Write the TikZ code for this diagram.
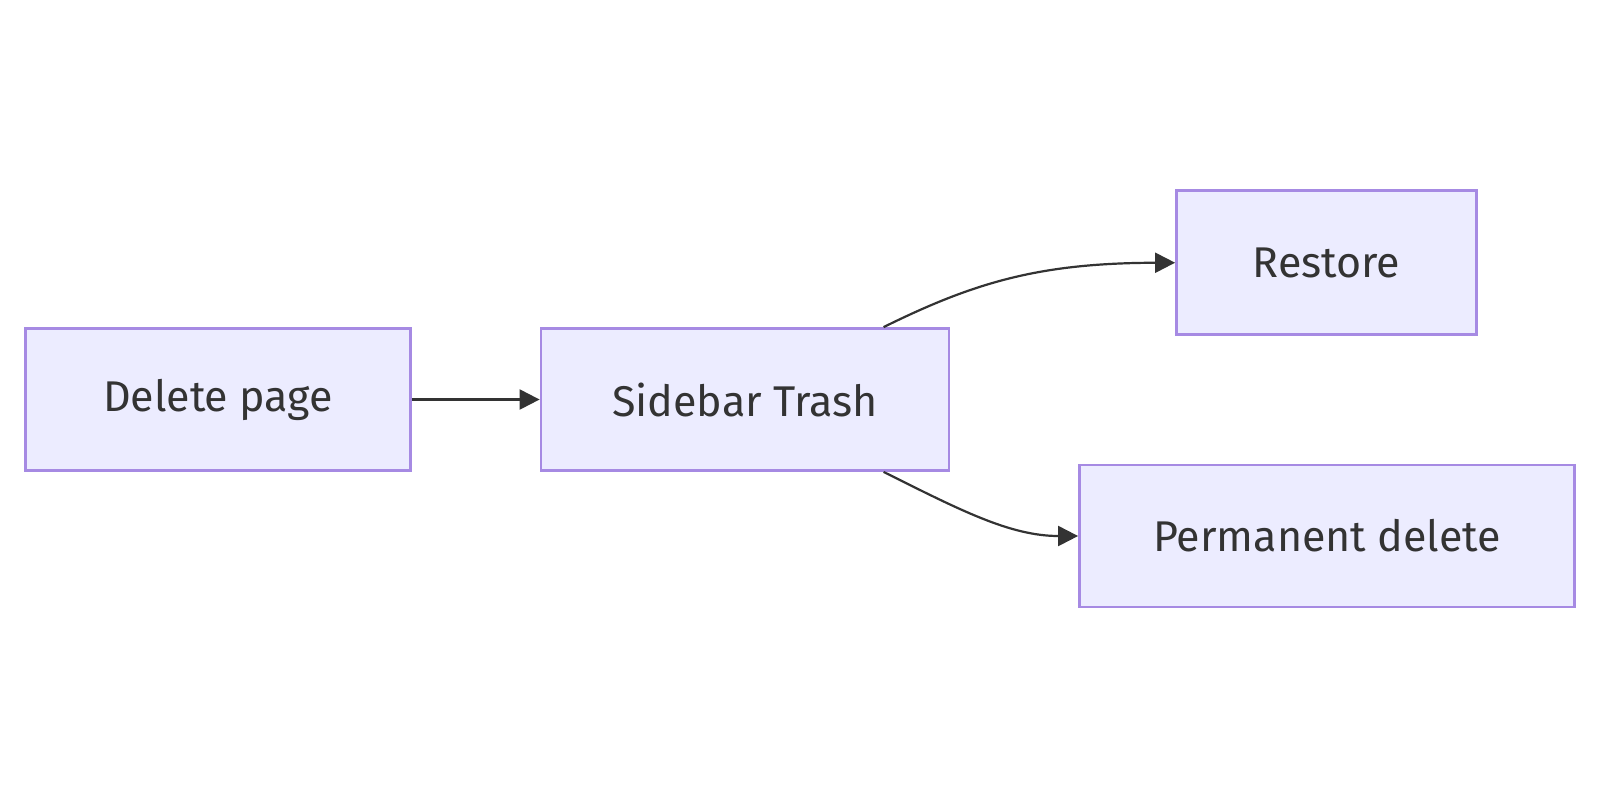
\documentclass[tikz,border=0pt]{standalone}
\usepackage{fontspec}
\setmainfont{Fira Sans}
\usetikzlibrary{arrows.meta}
\definecolor{boxfill}{HTML}{ECECFF}
\definecolor{boxdraw}{HTML}{A68AE3}
\definecolor{edge}{HTML}{333333}
\begin{document}
\begin{tikzpicture}[x=0.5pt,y=-0.5pt,
  box/.style={draw=boxdraw,fill=boxfill,line width=1.4pt,inner sep=0pt,
    text=edge,font=\fontsize{21.5}{26}\selectfont},
  link/.style={draw=edge,line width=1.1pt,-{Triangle[length=10pt,width=10pt]}}]
\useasboundingbox (0,0) rectangle (1600,800);
\node[box,minimum width=192.5pt,minimum height=71pt] (del) at (218,399.5) {Delete page};
\node[box,minimum width=204pt,minimum height=71pt] (trash) at (745,399.5) {Sidebar Trash};
\node[box,minimum width=150pt,minimum height=72pt] (rest) at (1326.5,262.7) {Restore};
\node[box,minimum width=247.5pt,minimum height=71pt] (perm) at (1327,536) {Permanent delete};
\draw[link] (del.east) -- (trash.west);
\draw[link] ([xshift=172pt]trash.north west) .. controls (975,282) and (1040,263) .. (rest.west);
\draw[link] ([xshift=172pt]trash.south west) .. controls (960,510) and (1010,536) .. (perm.west);
\end{tikzpicture}
\end{document}
